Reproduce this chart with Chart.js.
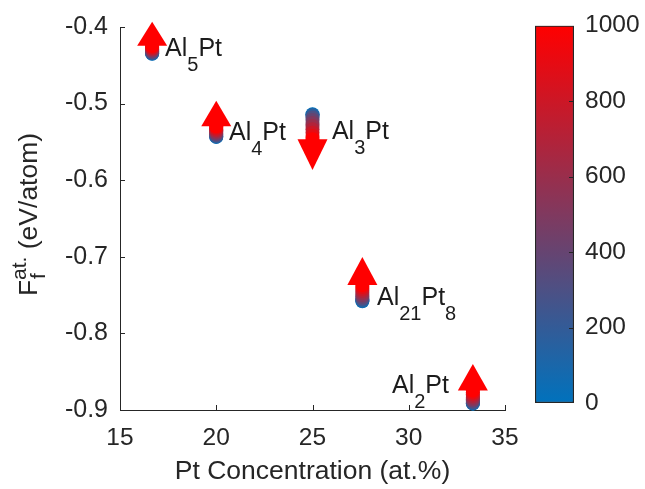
<!DOCTYPE html>
<html>
<head>
<meta charset="utf-8">
<script src="https://cdn.jsdelivr.net/npm/chart.js@4.4.1/dist/chart.umd.min.js"></script>
<style>
  html, body { margin: 0; padding: 0; background: #fff; }
  #wrap { position: relative; width: 645px; height: 489px; }
  #main { position: absolute; left: 0; top: 0; }
  #cbar { position: absolute; left: 520px; top: 0; }
</style>
</head>
<body>
<div id="wrap">
  <canvas id="main" width="645" height="489"></canvas>
  <canvas id="cbar" width="125" height="489"></canvas>
</div>
<script>
// Temperatures (K) at which the free energy of formation was evaluated
const TEMPS = [0, 100, 200, 300, 400, 500, 600, 700, 800, 900, 1000];

const PHASES = ['Al5Pt', 'Al4Pt', 'Al3Pt', 'Al21Pt8', 'Al2Pt'];
const PT_CONC = [16.67, 20, 25, 27.59, 33.33];

// F_f^at. (eV/atom) vs temperature, one array per phase
const F_AL5PT = [-0.4350, -0.4347, -0.4340, -0.4330, -0.4319, -0.4307, -0.4295, -0.4283, -0.4271, -0.4259, -0.4246];
const F_AL4PT = [-0.5435, -0.5432, -0.5423, -0.5411, -0.5397, -0.5381, -0.5364, -0.5347, -0.5330, -0.5312, -0.5295];
const F_AL3PT = [-0.5140, -0.5146, -0.5163, -0.5186, -0.5213, -0.5253, -0.5294, -0.5336, -0.5379, -0.5422, -0.5465];
const F_AL21PT8 = [-0.7580, -0.7575, -0.7562, -0.7544, -0.7522, -0.7498, -0.7472, -0.7446, -0.7420, -0.7394, -0.7368];
const F_AL2PT = [-0.8917, -0.8914, -0.8905, -0.8892, -0.8877, -0.8860, -0.8839, -0.8816, -0.8793, -0.8770, -0.8747];
const SERIES = [F_AL5PT, F_AL4PT, F_AL3PT, F_AL21PT8, F_AL2PT];

// where each trend arrow points to
const ARROW_TIPS = [-0.393, -0.4964, -0.5868, -0.7004, -0.840];

// phase names with subscripts, and where they are written (data units: left edge, baseline)
const LABEL_PARTS = [
  [['Al', ''], ['5', 'sub'], ['Pt', '']],
  [['Al', ''], ['4', 'sub'], ['Pt', '']],
  [['Al', ''], ['3', 'sub'], ['Pt', '']],
  [['Al', ''], ['21', 'sub'], ['Pt', ''], ['8', 'sub']],
  [['Al', ''], ['2', 'sub'], ['Pt', '']],
];
const LABEL_AT = [[17.34, -0.4376], [20.66, -0.5473], [26.01, -0.5460], [28.35, -0.7629], [29.13, -0.8777]];

const X_TICKS = [15, 20, 25, 30, 35];
const Y_TICKS = [-0.9, -0.8, -0.7, -0.6, -0.5, -0.4];
const T_TICKS = [0, 200, 400, 600, 800, 1000];

const INK = '#262626';
const FAMILY = '"Liberation Sans", Arial, Helvetica, sans-serif';
const COLD = [0, 114, 189];
const HOT = [255, 0, 0];

function tempColor(t) {
  const f = (t - T_TICKS[0]) / (T_TICKS[T_TICKS.length - 1] - T_TICKS[0]);
  const c = COLD.map((v, k) => Math.round(v + (HOT[k] - v) * f));
  return `rgb(${c[0]},${c[1]},${c[2]})`;
}

function fixedTicks(values) {
  return (scale) => {
    scale.ticks = values.map((v) => ({ value: v }));
  };
}

// text with sub/superscripts; a 'stack' part puts a superscript above a subscript
function drawRich(ctx, parts, x, y, size) {
  const small = Math.round(size * 0.78);
  let cx = x;
  parts.forEach(([text, role, lower]) => {
    if (role === 'stack') {
      ctx.font = `${small}px ${FAMILY}`;
      ctx.fillText(text, cx, y - size * 0.42);
      ctx.fillText(lower, cx + 1, y + size * 0.3);
      cx += Math.max(ctx.measureText(text).width, ctx.measureText(lower).width);
      return;
    }
    ctx.font = `${role ? small : size}px ${FAMILY}`;
    ctx.fillText(text, cx, role === 'sub' ? y + size * 0.6 : y);
    cx += ctx.measureText(text).width;
  });
  return cx - x;
}

function richWidth(ctx, parts, size) {
  const small = Math.round(size * 0.78);
  let w = 0;
  parts.forEach(([text, role, lower]) => {
    ctx.font = `${role ? small : size}px ${FAMILY}`;
    w += role === 'stack'
      ? Math.max(ctx.measureText(text).width, ctx.measureText(lower).width)
      : ctx.measureText(text).width;
  });
  return w;
}

const decorations = {
  id: 'decorations',
  afterDatasetsDraw(chart) {
    const { ctx, scales: { x, y } } = chart;
    ctx.save();
    ctx.fillStyle = tempColor(T_TICKS[T_TICKS.length - 1]);
    SERIES.forEach((series, i) => {
      const px = x.getPixelForValue(PT_CONC[i]);
      const base = y.getPixelForValue(series[series.length - 1]);
      const tip = y.getPixelForValue(ARROW_TIPS[i]);
      ctx.beginPath();
      ctx.moveTo(px - 15, base);
      ctx.lineTo(px + 15, base);
      ctx.lineTo(px, tip);
      ctx.closePath();
      ctx.fill();
    });

    ctx.fillStyle = '#1c1c1c';
    ctx.textAlign = 'left';
    ctx.textBaseline = 'alphabetic';
    LABEL_PARTS.forEach((parts, i) => {
      const [lx, ly] = LABEL_AT[i];
      drawRich(ctx, parts, x.getPixelForValue(lx), y.getPixelForValue(ly), 25);
    });
    ctx.restore();
  },
  afterDraw(chart) {
    const { ctx, chartArea: area, scales: { x, y } } = chart;
    ctx.save();
    // inward tick marks
    ctx.strokeStyle = INK;
    ctx.lineWidth = 1;
    ctx.beginPath();
    X_TICKS.forEach((v) => {
      const px = Math.round(x.getPixelForValue(v)) + 0.5;
      ctx.moveTo(px, area.bottom);
      ctx.lineTo(px, area.bottom - 5);
    });
    Y_TICKS.forEach((v) => {
      const py = Math.round(y.getPixelForValue(v)) + 0.5;
      ctx.moveTo(area.left, py);
      ctx.lineTo(area.left + 5, py);
    });
    ctx.stroke();

    // axis titles
    ctx.fillStyle = INK;
    ctx.textBaseline = 'alphabetic';
    ctx.font = `26.5px ${FAMILY}`;
    ctx.textAlign = 'center';
    ctx.fillText('Pt Concentration (at.%)', (area.left + area.right) / 2, 479);

    const yTitle = [['F', ''], ['at.', 'stack', 'f'], [' (eV/atom)', '']];
    const w = richWidth(ctx, yTitle, 26.5);
    ctx.translate(37, (area.top + area.bottom) / 2 - 4);
    ctx.rotate(-Math.PI / 2);
    ctx.textAlign = 'left';
    drawRich(ctx, yTitle, -w / 2, 0, 26.5);
    ctx.restore();
  },
};

new Chart(document.getElementById('main'), {
  type: 'scatter',
  data: {
    datasets: PHASES.map((name, i) => ({
      label: name,
      data: TEMPS.map((t, j) => ({ x: PT_CONC[i], y: SERIES[i][j] })),
      pointRadius: 7,
      pointBorderWidth: 0,
      pointBackgroundColor: TEMPS.map(tempColor),
      clip: false,
    })),
  },
  options: {
    responsive: false,
    animation: false,
    events: [],
    layout: { padding: { left: 0, top: 18, right: 140, bottom: 0 } },
    plugins: { legend: { display: false }, tooltip: { enabled: false } },
    scales: {
      x: {
        type: 'linear',
        min: X_TICKS[0],
        max: X_TICKS[X_TICKS.length - 1],
        afterBuildTicks: fixedTicks(X_TICKS),
        afterFit: (s) => { s.height = 79; },
        grid: { display: false, drawTicks: false },
        border: { display: true, color: INK, width: 1 },
        ticks: { padding: 14, color: INK, font: { family: FAMILY, size: 24.5 }, callback: (v) => String(v) },
      },
      y: {
        min: Y_TICKS[0],
        max: Y_TICKS[Y_TICKS.length - 1],
        afterBuildTicks: fixedTicks(Y_TICKS),
        afterFit: (s) => { s.width = 120; },
        grid: { display: false, drawTicks: false },
        border: { display: true, color: INK, width: 1 },
        ticks: { padding: 12, color: INK, font: { family: FAMILY, size: 25 }, callback: (v) => v.toFixed(1) },
      },
    },
  },
  plugins: [decorations],
});

// colour bar: one floating bar spanning the temperature range
const cbarTicks = {
  id: 'cbarTicks',
  afterDraw(chart) {
    const { ctx, chartArea: area, scales: { y } } = chart;
    ctx.save();
    ctx.strokeStyle = INK;
    ctx.lineWidth = 1;
    ctx.beginPath();
    T_TICKS.slice(1, -1).forEach((v) => {
      const py = Math.round(y.getPixelForValue(v)) + 0.5;
      ctx.moveTo(area.right - 1, py);
      ctx.lineTo(area.right - 5, py);
    });
    ctx.stroke();
    ctx.restore();
  },
};

function barGradient(c) {
  const { chart } = c;
  const scale = chart.scales.y;
  const y0 = scale ? scale.getPixelForValue(TEMPS[0]) : NaN;
  const y1 = scale ? scale.getPixelForValue(TEMPS[TEMPS.length - 1]) : NaN;
  if (!Number.isFinite(y0) || !Number.isFinite(y1) || y0 === y1) return tempColor(TEMPS[0]);
  const g = chart.ctx.createLinearGradient(0, y0, 0, y1);
  TEMPS.forEach((t, k) => g.addColorStop(k / (TEMPS.length - 1), tempColor(t)));
  return g;
}

new Chart(document.getElementById('cbar'), {
  type: 'bar',
  data: {
    labels: [''],
    datasets: [{
      data: [[T_TICKS[0], T_TICKS[T_TICKS.length - 1]]],
      backgroundColor: barGradient,
      borderColor: INK,
      borderWidth: 1.5,
      borderSkipped: false,
      barPercentage: 1,
      categoryPercentage: 1,
    }],
  },
  options: {
    responsive: false,
    animation: false,
    events: [],
    layout: { padding: { left: 15, top: 18, right: 0, bottom: 86 } },
    plugins: { legend: { display: false }, tooltip: { enabled: false } },
    scales: {
      x: { display: false },
      y: {
        position: 'right',
        min: T_TICKS[0],
        max: T_TICKS[T_TICKS.length - 1],
        afterBuildTicks: fixedTicks(T_TICKS),
        afterFit: (s) => { s.width = 71; },
        grid: { display: false, drawTicks: false },
        border: { display: false },
        ticks: { padding: 11, color: INK, font: { family: FAMILY, size: 24.5 }, callback: (v) => String(v) },
      },
    },
  },
  plugins: [cbarTicks],
});
</script>
</body>
</html>
